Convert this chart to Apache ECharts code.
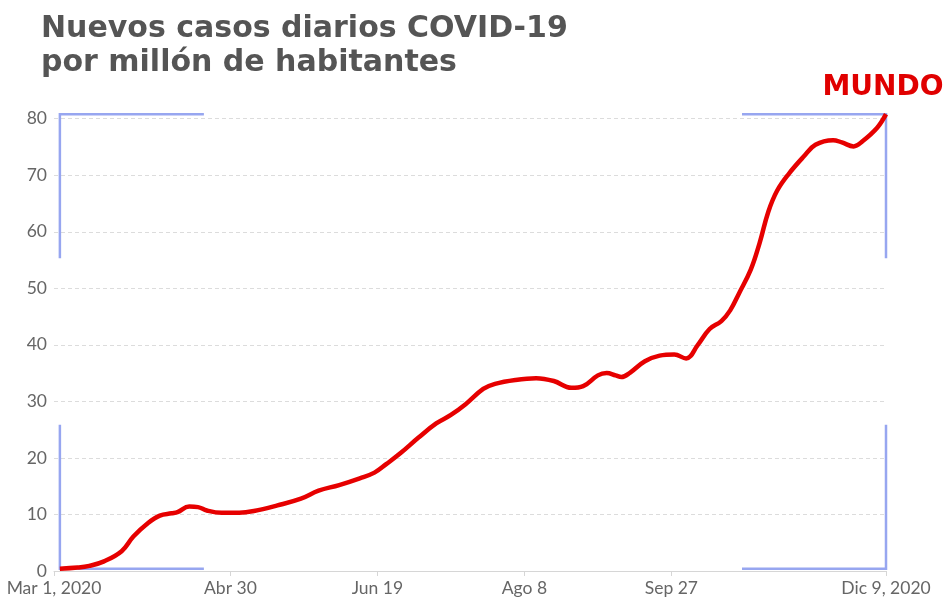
<!DOCTYPE html>
<html>
<head>
<meta charset="utf-8">
<script src="https://cdn.jsdelivr.net/npm/echarts@6/dist/echarts.min.js"></script>
<style>
html,body{margin:0;padding:0;background:#fff;}
#chart{width:945px;height:597px;}
</style>
</head>
<body>
<div id="chart"></div>
<script>
const titleLines = ["Nuevos casos diarios COVID-19", "por millón de habitantes"];
const seriesName = "MUNDO";
const dates = [
  "2020-03-03","2020-03-09","2020-03-13","2020-03-18","2020-03-24","2020-03-28",
  "2020-04-02","2020-04-06","2020-04-10","2020-04-12","2020-04-16","2020-04-19",
  "2020-04-22","2020-04-27","2020-05-03","2020-05-08","2020-05-16","2020-05-24",
  "2020-05-30","2020-06-06","2020-06-13","2020-06-18","2020-06-22","2020-06-27",
  "2020-07-03","2020-07-09","2020-07-14","2020-07-19","2020-07-25","2020-07-29",
  "2020-08-05","2020-08-12","2020-08-18","2020-08-24","2020-08-28","2020-09-02",
  "2020-09-05","2020-09-08","2020-09-10","2020-09-13","2020-09-18","2020-09-23",
  "2020-09-28","2020-10-02","2020-10-06","2020-10-10","2020-10-14","2020-10-17",
  "2020-10-20","2020-10-24","2020-10-27","2020-10-30","2020-11-02","2020-11-06",
  "2020-11-11","2020-11-15","2020-11-21","2020-11-24","2020-11-28","2020-12-01",
  "2020-12-06","2020-12-09"
];
const values = [
  0.4, 0.6, 0.9, 1.7, 3.5, 6.1,
  8.5, 9.8, 10.2, 10.4, 11.4, 11.3,
  10.7, 10.3, 10.3, 10.6, 11.6, 12.8,
  14.2, 15.2, 16.4, 17.4, 18.9, 20.9,
  23.6, 26.1, 27.6, 29.5, 32.2, 33.1,
  33.8, 34.1, 33.6, 32.4, 32.7, 34.6,
  35.0, 34.6, 34.3, 35.1, 37.1, 38.1,
  38.3, 37.6, 40.0, 42.8, 44.2, 46.1,
  49.1, 53.3, 58.0, 63.6, 67.3, 70.3,
  73.3, 75.4, 76.2, 75.8, 75.1, 76.0,
  78.4, 80.8
];
const xTickDates = ["2020-03-01","2020-04-30","2020-06-19","2020-08-08","2020-09-27","2020-12-09"];
const xTickLabels = ["Mar 1, 2020","Abr 30","Jun 19","Ago 8","Sep 27","Dic 9, 2020"];
const yTicks = [0,10,20,30,40,50,60,70,80];

const DAY = 86400000;
const t0 = Date.parse(xTickDates[0] + "T00:00:00Z");
const dayOf = d => Math.round((Date.parse(d + "T00:00:00Z") - t0) / DAY);
const xTickDays = xTickDates.map(dayOf);
const labelMap = {};
xTickDays.forEach((t, i) => { labelMap[t] = xTickLabels[i]; });

const seriesData = dates.map((d, i) => [dayOf(d), values[i]]);

const TITLE_FONT = '"DejaVu Sans", sans-serif';
const chart = echarts.init(document.getElementById('chart'), null, { renderer: 'canvas' });
chart.setOption({
  animation: false,
  backgroundColor: '#fff',
  title: {
    text: titleLines.join('\n'),
    left: 36, top: 7,
    textStyle: { fontFamily: TITLE_FONT, fontWeight: 700, fontSize: 30, lineHeight: 34, color: '#555' }
  },
  grid: { left: 54, right: 59, top: 118.7, bottom: 25.5, containLabel: false },
  xAxis: {
    type: 'value',
    min: xTickDays[0], max: xTickDays[xTickDays.length - 1],
    axisLine: { show: true, onZero: false, lineStyle: { color: '#d6d6d6', width: 1 } },
    axisTick: { show: true, customValues: xTickDays, length: 5, lineStyle: { color: '#d6d6d6' } },
    axisLabel: {
      customValues: xTickDays,
      formatter: v => labelMap[v] || '',
      fontFamily: 'Lato', fontSize: 17.5, color: '#666', margin: 8
    },
    splitLine: { show: false }
  },
  yAxis: {
    type: 'value', min: yTicks[0], max: yTicks[yTicks.length - 1], interval: 10,
    axisLine: { show: false }, axisTick: { show: false },
    axisLabel: { fontFamily: 'Lato', fontSize: 17.5, color: '#666', margin: 7 },
    splitLine: { show: true, lineStyle: { color: '#dcdcdc', type: [4, 3], width: 1 } }
  },
  series: [{
    name: seriesName,
    type: 'line',
    smooth: 0.4,
    clip: false,
    showSymbol: false,
    symbol: 'none',
    lineStyle: { color: '#e60000', width: 4.5 },
    itemStyle: { color: '#e60000' },
    data: seriesData,
    z: 5
  }]
});

// Corner brackets framing the data extent, and the series label at the end point
const first = [dayOf(dates[0]), Math.min(...values)];
const last = [dayOf(dates[dates.length - 1]), Math.max(...values)];
const pA = chart.convertToPixel({ gridIndex: 0 }, first);
const pB = chart.convertToPixel({ gridIndex: 0 }, last);
const L = 144;
const x0 = pA[0], x1 = pB[0], yb = pA[1], yt = pB[1];
const bc = { stroke: '#97a6f0', lineWidth: 2.5, fill: null };
const corners = [
  [[x0, yt + L], [x0, yt], [x0 + L, yt]],
  [[x1 - L, yt], [x1, yt], [x1, yt + L]],
  [[x0, yb - L], [x0, yb], [x0 + L, yb]],
  [[x1 - L, yb], [x1, yb], [x1, yb - L]]
];
const graphics = corners.map(pts => ({
  type: 'polyline', z: 3, silent: true,
  shape: { points: pts }, style: bc
}));
graphics.push({
  type: 'text', z: 10, silent: true,
  x: x1 - 3, y: yt - 12,
  style: {
    text: seriesName, fill: '#e00000',
    font: 'bold 28px ' + TITLE_FONT,
    align: 'center', verticalAlign: 'bottom'
  }
});
chart.setOption({ graphic: graphics });
</script>
</body>
</html>
